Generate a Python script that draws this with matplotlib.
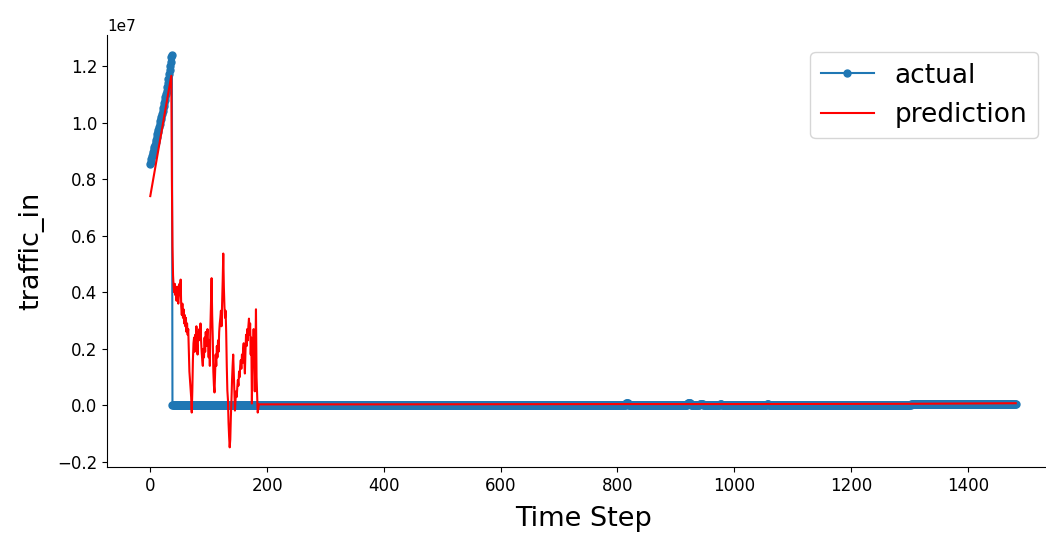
import numpy as np
import matplotlib
matplotlib.use("Agg")
import matplotlib.pyplot as plt

# actual traffic (1e6 units), first rising part read point by point
actual_head = [8.55, 8.62, 8.70, 8.80, 8.88, 8.95, 9.05, 9.15, 9.22, 9.30,
               9.40, 9.50, 9.58, 9.65, 9.75, 9.85, 9.95, 10.05, 10.12, 10.20,
               10.30, 10.40, 10.50, 10.60, 10.70, 10.80, 10.90, 11.00, 11.12, 11.25,
               11.40, 11.55, 11.70, 11.85, 12.00, 12.15, 12.30, 12.40]
# after the drop the series is flat: levels and how many steps each lasts
actual_levels = [0.02, 0.08, 0.02, 0.08, 0.02, 0.07, 0.02, 0.07, 0.02, 0.07, 0.02, 0.07]
actual_runs = [777, 4, 101, 6, 15, 6, 29, 3, 77, 3, 244, 180]

# prediction (1e6 units): step 0, every step 36..184, then a few far points
pred_steps = [0] + list(range(36, 185)) + [186, 400, 800, 1000, 1300, 1482]
pred_values = [7.4, 11.65, 8.0, 5.6, 4.6, 4.2, 4.0, 4.3, 3.9, 4.1,
               3.7, 4.2, 3.8, 3.6, 3.9, 4.3, 3.9, 4.45, 3.5, 3.2,
               3.6, 3.1, 3.4, 2.9, 3.2, 2.8, 3.1, 2.6, 2.9, 2.5,
               2.7, 2.0, 1.2, 0.9, 0.64, 0.3, -0.25, 0.5, 1.6, 2.2,
               2.4, 1.9, 2.5, 2.1, 2.8, 2.2, 1.8, 2.6, 2.3, 2.7,
               2.4, 2.9, 2.3, 1.9, 1.6, 1.4, 2.0, 1.7, 2.4, 1.9,
               2.6, 2.1, 2.4, 2.7, 2.2, 1.7, 2.3, 1.4, 2.8, 3.6,
               4.5, 3.2, 2.4, 1.2, 0.7, 0.46, 1.1, 1.8, 1.4, 2.1,
               1.7, 2.3, 1.9, 2.6, 2.9, 3.1, 3.35, 2.8, 3.6, 4.4,
               5.37, 4.2, 3.5, 3.1, 3.35, 2.6, 1.4, 0.53, 0.2, -0.6,
               -1.1, -1.48, -1.2, -0.4, 0.18, 0.9, 1.4, 1.8, 1.2, 0.5,
               -0.18, 0.2, 0.5, 0.3, 0.64, 0.9, 0.7, 1.2, 1.0, 1.4,
               1.6, 1.3, 1.8, 1.5, 2.0, 2.2, 1.7, 1.13, 1.9, 2.5,
               2.1, 2.7, 2.3, 2.8, 3.07, 2.5, 2.9, 1.8, 2.4, 0.07,
               1.6, 2.0, 2.7, 1.9, 0.5, 1.8, 3.4, 1.0, 0.4, -0.25,
               0.04, 0.04, 0.05, 0.05, 0.06, 0.08]

actual = np.concatenate([actual_head, np.repeat(actual_levels, actual_runs)]) * 1e6
pred = np.array(pred_values) * 1e6

fig = plt.figure(figsize=(10.46, 5.34), dpi=100)
ax = fig.add_axes([107 / 1046, 67 / 534, 952 / 1046, 432 / 534])

ax.plot(np.arange(len(actual)), actual, marker='.', markersize=10, label='actual')
ax.plot(pred_steps, pred, color='red', label='prediction')

ax.set_xlabel('Time Step', fontsize=19.5, labelpad=8)
ax.set_ylabel('traffic_in', fontsize=19.5, labelpad=9)
ax.tick_params(labelsize=12)
ax.yaxis.get_offset_text().set_fontsize(11)
ax.spines['top'].set_visible(False)
ax.spines['right'].set_visible(False)

ax.legend(fontsize=19, loc='upper right', bbox_to_anchor=(1038 / 1046, 1 - 52 / 534),
          bbox_transform=fig.transFigure, borderaxespad=0)

fig.savefig('out.png', dpi=100)
